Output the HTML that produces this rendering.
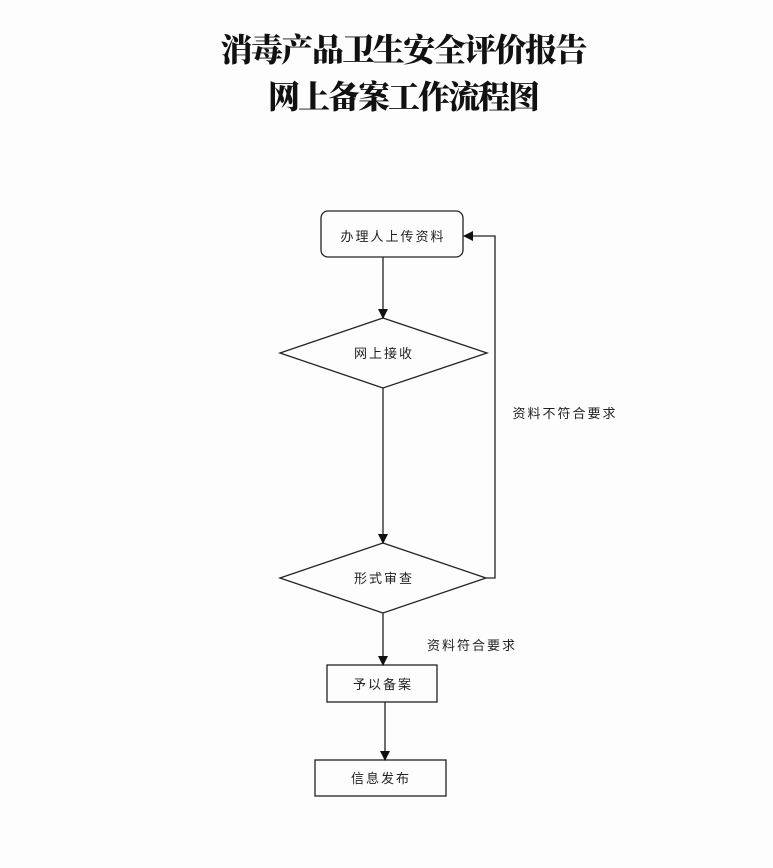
<!DOCTYPE html>
<html><head><meta charset="utf-8"><style>
body{margin:0;width:773px;height:863px;background:#fdfdfd;overflow:hidden}
svg text{font-family:"Liberation Sans","Noto Sans CJK SC",sans-serif;fill:#222}
.t{font-family:"Liberation Serif","Noto Serif CJK SC",serif !important;font-weight:900;fill:#111}
</style></head><body>
<svg width="773" height="863" xmlns="http://www.w3.org/2000/svg">
<defs><marker id="a" markerWidth="10" markerHeight="10" refX="9" refY="5" orient="auto" markerUnits="userSpaceOnUse"><path d="M0,0 L10,5 L0,10 z" fill="#111"/></marker></defs>
<text class="t" x="404" y="61" font-size="32" text-anchor="middle" textLength="367" lengthAdjust="spacing">消毒产品卫生安全评价报告</text>
<text class="t" x="404" y="108" font-size="32" text-anchor="middle" textLength="272" lengthAdjust="spacing">网上备案工作流程图</text>
<g stroke="#222" stroke-width="1.3" fill="none">
<rect x="321" y="211" width="142" height="46" rx="7"/>
<polygon points="383,318 487,353 383,388 280,353"/>
<polygon points="383,543 486,578 383,613 280,578"/>
<rect x="327" y="665" width="110" height="37"/>
<rect x="315" y="760" width="131" height="36"/>
<line x1="383" y1="257" x2="383" y2="318" marker-end="url(#a)"/>
<line x1="383" y1="388" x2="383" y2="543" marker-end="url(#a)"/>
<line x1="383" y1="613" x2="383" y2="665" marker-end="url(#a)"/>
<line x1="385" y1="702" x2="385" y2="760" marker-end="url(#a)"/>
<polyline points="486,578 495,578 495,236 464,236" marker-end="url(#a)"/>
</g>
<g font-size="13" text-anchor="middle" letter-spacing="2">
<text x="393" y="241">办理人上传资料</text>
<text x="384" y="358">网上接收</text>
<text x="384" y="583">形式审查</text>
<text x="383" y="689">予以备案</text>
<text x="381" y="783">信息发布</text>
<text x="565" y="418">资料不符合要求</text>
<text x="472" y="650">资料符合要求</text>
</g>
</svg>
</body></html>
